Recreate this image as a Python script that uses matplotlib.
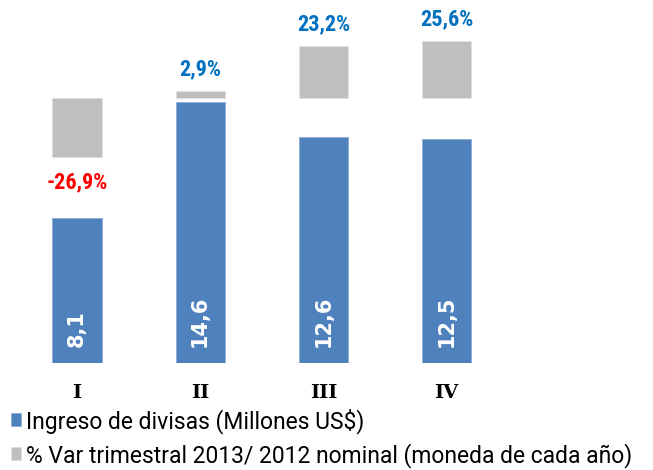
import matplotlib.pyplot as plt

# Data
quarters = ["I", "II", "III", "IV"]
ingreso = [8.1, 14.6, 12.6, 12.5]          # Millones US$
var_pct = [-26.9, 2.9, 23.2, 25.6]         # % var trimestral 2013/2012
ingreso_labels = ["8,1", "14,6", "12,6", "12,5"]
var_labels = ["-26,9%", "2,9%", "23,2%", "25,6%"]

blue = "#4F81BD"
gray = "#BFBFBF"

# narrow-ish fonts, first one installed wins
narrow = ["Roboto Condensed", "Liberation Sans Narrow", "Roboto", "DejaVu Sans"]

fig = plt.figure(figsize=(6.53, 4.70), dpi=100)
ax = fig.add_axes([0.0234, 0.2277, 0.755, 0.762])
ax2 = ax.twinx()

x = list(range(len(quarters)))
b1 = ax.bar(x, ingreso, width=0.4, color=blue, edgecolor="#8EAAD8", linewidth=0.6)
b2 = ax2.bar(x, var_pct, width=0.4, color=gray, edgecolor="#E0E0E0", linewidth=0.6)

ax.set_xlim(-0.5, 3.5)
ax.set_ylim(0, 20)
ax2.set_ylim(-120, 42)

# values inside the blue bars
for xi, lab in zip(x, ingreso_labels):
    ax.text(xi, 0.9, lab, rotation=90, ha="center", va="bottom", color="white",
            fontsize=15, fontweight="bold", family="DejaVu Sans")

# % labels above / below the gray bars
for xi, v, lab in zip(x, var_pct, var_labels):
    col = "#FF0000" if v < 0 else "#0070C0"
    off = -10 if v < 0 else 8
    ax2.annotate(lab, (xi, v), xytext=(0, off), textcoords="offset points",
                 ha="center", va="top" if v < 0 else "bottom", color=col,
                 fontsize=16, fontweight="bold", family=narrow)

for a in (ax, ax2):
    for s in a.spines.values():
        s.set_visible(False)
    a.set_yticks([])
ax.set_xticks(x)
ax.set_xticklabels(quarters, family="DejaVu Serif", fontweight="bold", fontsize=14)
ax.tick_params(axis="x", length=0, pad=15)

fig.legend([b1, b2], ["Ingreso de divisas (Millones US$)",
                      "% Var trimestral 2013/ 2012 nominal (moneda de cada año)"],
           loc="upper left", bbox_to_anchor=(0.017, 0.132), frameon=False,
           prop={"family": ["Roboto", "DejaVu Sans"], "size": 16.5},
           handlelength=0.45, handleheight=0.5,
           handletextpad=0.2, labelspacing=0.4, borderaxespad=0, borderpad=0)

fig.savefig("out.png", dpi=100)
